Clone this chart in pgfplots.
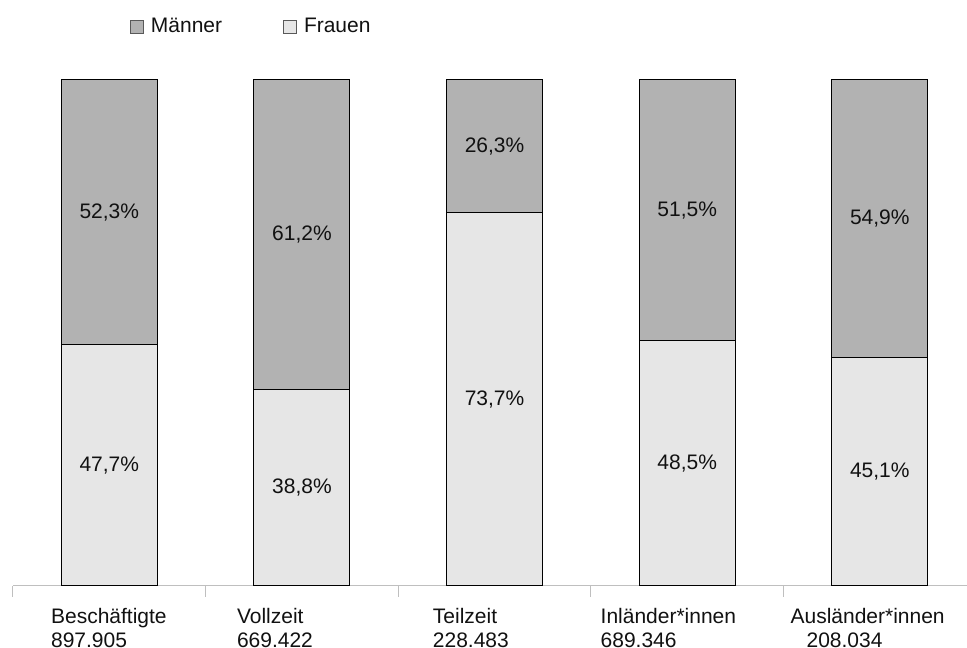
\documentclass[border=0pt]{standalone}
\usepackage{pgfplots}
\usepackage{pgfplotstable}
\pgfplotsset{compat=1.18}
\usepackage{fontspec}
\setmainfont{Liberation Sans}
\definecolor{maenner}{HTML}{B2B2B2}
\definecolor{frauen}{HTML}{E6E6E6}
\definecolor{axisgray}{HTML}{BFBFBF}
\definecolor{txt}{HTML}{111111}
\pgfplotstableread{
x f m
0 47.7 52.3
1 38.8 61.2
2 73.7 26.3
3 48.5 51.5
4 45.1 54.9
}\datatable
\begin{document}
\fontsize{21}{24}\selectfont
\begin{tikzpicture}
\begin{axis}[
  name=ax,
  scale only axis,
  width=954pt, height=506pt,
  xmin=-0.5, xmax=4.45,
  ymin=0, ymax=100,
  ybar, bar shift=0pt,
  bar width=96pt,
  clip=false,
  /pgf/number format/assume math mode=true,
  axis x line*=bottom,
  axis y line=none,
  x axis line style={draw=axisgray, line width=1pt},
  xtick={-0.5,0.5,1.5,2.5,3.5},
  xticklabels={},
  tick style={draw=axisgray, line width=1pt},
  major tick length=11pt,
  tick align=outside,
  ytick=\empty,
  legend columns=2,
  legend style={draw=none, fill=none, at={(0.1226,1.1047)}, anchor=west, inner sep=0pt,
    font=\fontsize{21}{24}\selectfont, text=txt,
    /tikz/every even column/.append style={column sep=59pt}},
  legend image code/.code={\draw[#1, draw=black!65, line width=0.8pt] (0pt,-6.5pt) rectangle (13pt,6.5pt); \path (18pt,0pt);},
  nodes near coords style={anchor=center, text=txt, font=\fontsize{21}{24}\selectfont},
]
\addplot[fill=maenner, draw=black, line width=1pt] table[x=x,y expr=\thisrow{f}+\thisrow{m}]{\datatable};
\addlegendentry{Männer}
\addplot[fill=frauen, draw=black, line width=1pt] table[x=x,y=f]{\datatable};
\addlegendentry{Frauen}
\addplot[forget plot, draw=none, fill=none, mark=none, point meta=\thisrow{f},
  nodes near coords={\pgfmathprintnumber[fixed,fixed zerofill,precision=1,use comma]{\pgfplotspointmeta}\%}]
  table[x=x,y expr=\thisrow{f}/2]{\datatable};
\addplot[forget plot, draw=none, fill=none, mark=none, point meta=\thisrow{m},
  nodes near coords={\pgfmathprintnumber[fixed,fixed zerofill,precision=1,use comma]{\pgfplotspointmeta}\%}]
  table[x=x,y expr=\thisrow{f}+\thisrow{m}/2]{\datatable};
\begin{scope}[every node/.style={anchor=north west, align=left, inner sep=0pt, text=txt, font=\fontsize{21}{24}\selectfont, yshift=-22pt}]
\node at (axis cs:-0.303,0) {Beschäftigte\\897.905};
\node at (axis cs:0.662,0) {Vollzeit\\669.422};
\node at (axis cs:1.679,0) {Teilzeit\\228.483};
\node at (axis cs:2.550,0) {Inländer*innen\\689.346};
\node at (axis cs:3.536,0) {Ausländer*innen\\\hspace*{16pt}208.034};
\end{scope}
\end{axis}
\path[use as bounding box] ([shift={(-13pt,-60pt)}]ax.south west) rectangle ([shift={(0pt,80pt)}]ax.north east);
\end{tikzpicture}
\end{document}
